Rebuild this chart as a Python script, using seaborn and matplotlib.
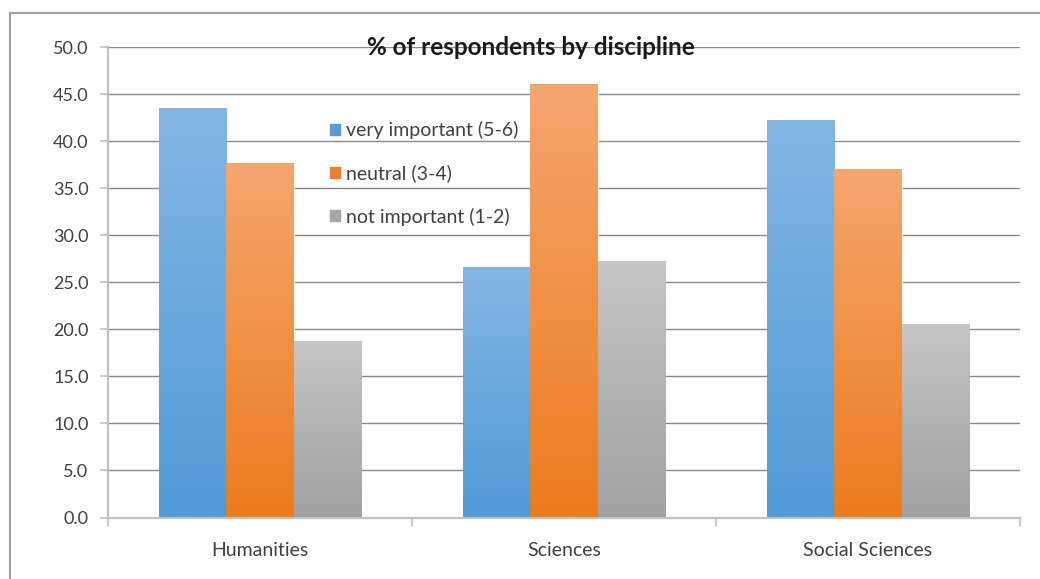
import numpy as np
import pandas as pd
import matplotlib as mpl
import matplotlib.pyplot as plt
import seaborn as sns
from matplotlib.patches import Rectangle
from matplotlib.colors import LinearSegmentedColormap

# --- data ---
disciplines = ['Humanities', 'Sciences', 'Social Sciences']
levels = ['very important (5-6)', 'neutral (3-4)', 'not important (1-2)']
very_important = [43.5, 26.6, 42.3]
neutral = [37.7, 46.1, 37.1]
not_important = [18.8, 27.3, 20.6]

df = pd.DataFrame({
    'discipline': disciplines * 3,
    'level': [levels[0]] * 3 + [levels[1]] * 3 + [levels[2]] * 3,
    'pct': very_important + neutral + not_important,
})

# Excel-ish gradient colours (top -> bottom) and flat legend colours
grads = {
    levels[0]: ('#84b5e3', '#4f9bd7'),
    levels[1]: ('#f5a66f', '#ec7b1d'),
    levels[2]: ('#c5c5c5', '#a1a1a1'),
}
palette = {levels[0]: '#5b9bd5', levels[1]: '#ed7d31', levels[2]: '#a5a5a5'}

sns.set_style('white')
plt.rcParams['font.family'] = ['Lato', 'DejaVu Sans']

fig = plt.figure(figsize=(10.4, 5.79), dpi=100)
ax = fig.add_axes([108 / 1040, 1 - 517.5 / 579, 912 / 1040, 470.2 / 579])

sns.barplot(data=df, x='discipline', y='pct', hue='level', order=disciplines,
            hue_order=levels, palette=palette, width=0.665, gap=0,
            edgecolor='white', linewidth=0.6, ax=ax, legend=False)

# gradient fill clipped to each bar
for container, lev in zip(ax.containers, levels):
    cmap = LinearSegmentedColormap.from_list(lev, [grads[lev][1], grads[lev][0]])
    grad = np.linspace(0, 1, 256).reshape(-1, 1)
    for bar in container:
        x0, y0 = bar.get_x(), bar.get_y()
        w, h = bar.get_width(), bar.get_height()
        im = ax.imshow(grad, cmap=cmap, aspect='auto', origin='lower',
                       extent=(x0, x0 + w, y0, y0 + h), zorder=bar.get_zorder())
        im.set_clip_path(bar)
        bar.set_facecolor('none')

ax.set_xlim(-0.5, 2.5)
ax.set_ylim(0, 50)
ax.set_yticks(np.arange(0, 50.1, 5))
ax.set_yticklabels([f'{v:.1f}' for v in np.arange(0, 50.1, 5)])
ax.yaxis.grid(True, color='#8a8a8a', linewidth=1.0)
ax.set_axisbelow(True)
ax.set_xlabel('')
ax.set_ylabel('')

for s in ['top', 'right']:
    ax.spines[s].set_visible(False)
for s in ['left', 'bottom']:
    ax.spines[s].set_color('#c0c0c0')
    ax.spines[s].set_linewidth(1.6)

ax.tick_params(axis='y', left=True, length=6, width=1.2, color='#c0c0c0',
               labelsize=13, labelcolor='#404040', pad=8)
ax.tick_params(axis='x', bottom=False, labelsize=14, labelcolor='#404040', pad=14)
# boundary ticks between categories
for xb in [-0.5, 0.5, 1.5, 2.5]:
    ax.plot([xb, xb], [0, -0.9], color='#c0c0c0', lw=1.2, clip_on=False)

ax.text(0.464, 1.0, '% of respondents by discipline', transform=ax.transAxes,
        fontsize=17.5, fontweight='bold', color='#1a1a1a', ha='center', va='center')

handles = [Rectangle((0, 0), 1, 1, color=palette[l]) for l in levels]
ax.legend(handles, levels, loc='upper left', bbox_to_anchor=(330 / 1040, 1 - 121 / 579),
          bbox_transform=fig.transFigure, frameon=False, fontsize=14,
          handlelength=0.5, handleheight=0.5, handletextpad=0.3,
          labelspacing=1.3, borderpad=0, borderaxespad=0, labelcolor='#404040')

# outer chart frame
fig.patches.append(Rectangle((10 / 1040, -0.05), 1.1, 1 - 13 / 579 + 0.05,
                             transform=fig.transFigure, fill=False,
                             edgecolor='#a0a0a0', linewidth=1.5))

fig.savefig('out.png', dpi=100)
